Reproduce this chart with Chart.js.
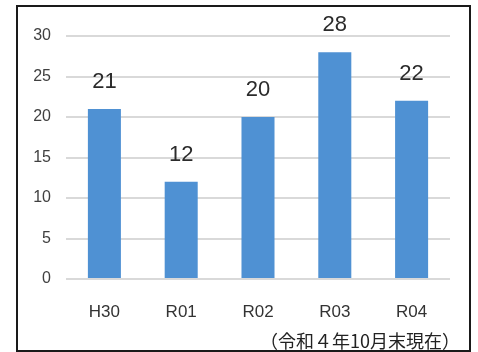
<!DOCTYPE html>
<html>
<head>
<meta charset="utf-8">
<script src="https://cdn.jsdelivr.net/npm/chart.js@4"></script>
<style>
  html, body { margin: 0; padding: 0; background: #fff; }
  #wrap { position: relative; width: 478px; height: 352px; }
</style>
</head>
<body>
<div id="wrap"><canvas id="chart" width="478" height="352"></canvas></div>
<script>
// data
const years = ['H30', 'R01', 'R02', 'R03', 'R04'];
const counts = [21, 12, 20, 28, 22];
const yTicks = [0, 5, 10, 15, 20, 25, 30];
const note = '（令和４年10月末現在）';

const fontFamily = '"Liberation Sans", Arial, sans-serif';

// black frame round the whole picture
const framePlugin = {
    id: 'frame',
    beforeDraw(chart) {
        const ctx = chart.ctx;
        ctx.save();
        ctx.strokeStyle = '#1a1a1a';
        ctx.lineWidth = 2;
        ctx.strokeRect(17, 6, 453, 345);
        ctx.restore();
    }
};

// value above each bar
const valueLabels = {
    id: 'valueLabels',
    afterDatasetsDraw(chart) {
        const ctx = chart.ctx;
        const meta = chart.getDatasetMeta(0);
        ctx.save();
        ctx.font = '22px ' + fontFamily;
        ctx.fillStyle = '#2b2b2b';
        ctx.textAlign = 'center';
        ctx.textBaseline = 'alphabetic';
        meta.data.forEach((bar, i) => {
            ctx.fillText(String(counts[i]), bar.x, bar.y - 21);
        });
        ctx.restore();
    }
};

// footnote, bottom right
const notePlugin = {
    id: 'note',
    afterDraw(chart) {
        const ctx = chart.ctx;
        ctx.save();
        ctx.font = '18px "Noto Sans CJK JP", sans-serif';
        ctx.fillStyle = '#222';
        ctx.textAlign = 'right';
        ctx.textBaseline = 'alphabetic';
        ctx.fillText(note, chart.chartArea.right + 10, 348);
        ctx.restore();
    }
};

new Chart(document.getElementById('chart').getContext('2d'), {
    type: 'bar',
    data: {
        labels: years,
        datasets: [{
            data: counts,
            backgroundColor: '#4f91d3',
            barPercentage: 0.43,
            categoryPercentage: 1
        }]
    },
    options: {
        responsive: false,
        animation: false,
        layout: { padding: { left: 0, right: 28, top: 36, bottom: 0 } },
        plugins: { legend: { display: false }, tooltip: { enabled: false } },
        scales: {
            x: {
                grid: { display: false, drawTicks: false },
                border: { display: false },
                ticks: { color: '#333', font: { family: fontFamily, size: 17 }, padding: 23 },
                afterFit: (scale) => { scale.height = 73; }
            },
            y: {
                min: 0,
                max: 30,
                afterBuildTicks: (scale) => { scale.ticks = yTicks.map(v => ({ value: v })); },
                grid: { color: '#d9d9d9', lineWidth: 2, drawTicks: false },
                border: { display: false },
                ticks: { color: '#404040', font: { family: fontFamily, size: 16 }, padding: 15 },
                afterFit: (scale) => { scale.width = 66; }
            }
        }
    },
    plugins: [framePlugin, valueLabels, notePlugin]
});
</script>
</body>
</html>
